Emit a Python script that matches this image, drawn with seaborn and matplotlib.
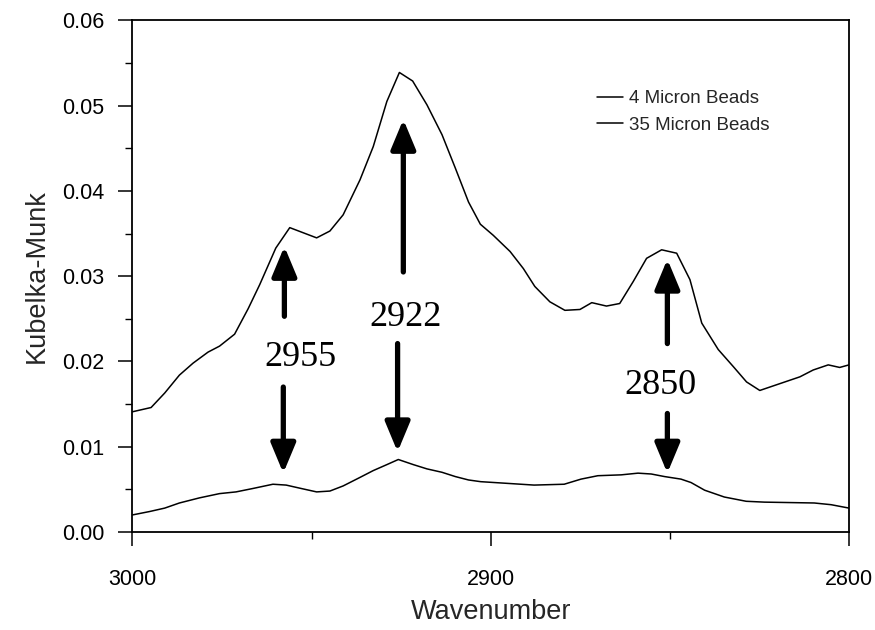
import numpy as np
import pandas as pd
import matplotlib
matplotlib.use("Agg")
import matplotlib.pyplot as plt
from matplotlib.ticker import MultipleLocator
import seaborn as sns

# ---------------- data ----------------
wn_4 = [3000, 2994.8, 2991.0, 2986.9, 2983.1, 2978.9, 2975.7, 2971.5, 2967.7, 2964.5,
        2960.0, 2956.1, 2948.6, 2944.9, 2941.2, 2936.5, 2932.8, 2929.0, 2925.5, 2921.8,
        2917.8, 2913.6, 2909.9, 2906.2, 2902.9, 2899.3, 2894.6, 2890.9, 2887.7, 2883.5,
        2879.3, 2875.1, 2871.8, 2867.7, 2864.0, 2860.2, 2856.5, 2852.3, 2848.1, 2844.4,
        2841.1, 2836.5, 2832.3, 2828.6, 2824.9, 2819.3, 2813.7, 2810.0, 2805.8, 2802.6,
        2800.0]
km_4 = [0.0141, 0.0146, 0.0163, 0.0184, 0.0198, 0.0211, 0.0218, 0.0232, 0.0262, 0.0290,
        0.0333, 0.0357, 0.0345, 0.0353, 0.0372, 0.0413, 0.0452, 0.0505, 0.0539, 0.0529,
        0.0501, 0.0466, 0.0427, 0.0387, 0.0361, 0.0348, 0.0329, 0.0309, 0.0288, 0.0270,
        0.0260, 0.0261, 0.0269, 0.0265, 0.0268, 0.0294, 0.0321, 0.0331, 0.0327, 0.0296,
        0.0245, 0.0214, 0.0194, 0.0176, 0.0166, 0.0174, 0.0182, 0.0190, 0.0196, 0.0193,
        0.0196]

wn_35 = [3000, 2995.2, 2991.0, 2986.9, 2981.3, 2975.7, 2971.1, 2966.4, 2960.8, 2957.1,
         2952.9, 2948.6, 2944.9, 2941.2, 2936.5, 2932.8, 2929.0, 2925.8, 2921.6, 2917.8,
         2913.6, 2909.9, 2906.2, 2902.8, 2895.3, 2887.9, 2879.5, 2874.8, 2870.1, 2863.6,
         2858.9, 2855.2, 2851.5, 2846.9, 2844.1, 2840.3, 2834.8, 2828.7, 2823.6, 2809.7,
         2805.0, 2800.0]
km_35 = [0.0020, 0.0024, 0.0028, 0.0034, 0.0040, 0.0045, 0.0047, 0.0051, 0.0056, 0.0055,
         0.0051, 0.0047, 0.0048, 0.0054, 0.0064, 0.0072, 0.0079, 0.0085, 0.0079, 0.0074,
         0.0070, 0.0065, 0.0061, 0.0059, 0.0057, 0.0055, 0.0056, 0.0062, 0.0066, 0.0067,
         0.0069, 0.0068, 0.0065, 0.0062, 0.0058, 0.0049, 0.0041, 0.0036, 0.0035, 0.0034,
         0.0032, 0.0028]

series_names = ["4 Micron Beads", "35 Micron Beads"]

peak_labels = ["2955", "2922", "2850"]
label_x = [2953.0, 2923.7, 2852.7]
label_y = [0.0205, 0.0251, 0.0172]
up_arrow_x = [2957.6, 2924.4, 2850.7]
up_tail = [0.0253, 0.0305, 0.0221]
up_tip = [0.0335, 0.0484, 0.0320]
down_arrow_x = [2957.9, 2926.0, 2850.7]
down_tail = [0.0170, 0.0221, 0.0139]
down_tip = [0.0069, 0.0094, 0.0069]

x_ticks = [3000, 2900, 2800]
y_ticks = [0.00, 0.01, 0.02, 0.03, 0.04, 0.05, 0.06]

# ---------------- frame ----------------
df = pd.concat([
    pd.DataFrame({"Wavenumber": wn_4, "KM": km_4, "series": series_names[0]}),
    pd.DataFrame({"Wavenumber": wn_35, "KM": km_35, "series": series_names[1]}),
], ignore_index=True)

sns.set_style("ticks")
plt.rcParams["font.family"] = ["Liberation Sans", "DejaVu Sans"]

fig = plt.figure(figsize=(8.75, 6.3), dpi=100)
ax = fig.add_axes([0.1514, 0.1556, 0.8189, 0.8119])

sns.lineplot(data=df, x="Wavenumber", y="KM", hue="series", hue_order=series_names,
             palette=["black", "black"], estimator=None, errorbar=None,
             linewidth=1.1, ax=ax)

ax.set_xlim(3000, 2800)
ax.set_ylim(0, 0.06)
ax.set_xticks(x_ticks)
ax.set_xticklabels([str(v) for v in x_ticks])
ax.set_yticks(y_ticks)
ax.set_yticklabels([f"{v:.2f}" for v in y_ticks])
ax.xaxis.set_minor_locator(MultipleLocator(50))
ax.yaxis.set_minor_locator(MultipleLocator(0.005))

for s in ax.spines.values():
    s.set_visible(True)
    s.set_linewidth(1.3)
    s.set_color("black")

ax.tick_params(which="major", direction="out", length=10, width=1.1, labelsize=15.5,
               colors="black")
ax.tick_params(which="minor", direction="out", length=5, width=1.0, colors="black")
ax.tick_params(axis="y", which="major", pad=10)
ax.tick_params(axis="x", which="major", pad=17)

ax.set_xlabel("Wavenumber", fontsize=19.5, labelpad=6)
ax.set_ylabel("Kubelka-Munk", fontsize=19.5, labelpad=9)

leg = ax.legend(loc="upper left", bbox_to_anchor=(0.648, 0.864), frameon=False,
                fontsize=13.5, handlelength=1.4, handletextpad=0.3,
                labelspacing=0.5, borderpad=0, borderaxespad=0)
for h in leg.get_lines():
    h.set_linewidth(1.1)

arrow_style = "-|>,head_length=1.8,head_width=0.75"
for i in range(len(peak_labels)):
    ax.annotate("", xy=(up_arrow_x[i], up_tip[i]), xytext=(up_arrow_x[i], up_tail[i]),
                arrowprops=dict(arrowstyle=arrow_style, lw=3.8, color="black",
                                shrinkA=0, shrinkB=0, mutation_scale=10))
    ax.annotate("", xy=(down_arrow_x[i], down_tip[i]), xytext=(down_arrow_x[i], down_tail[i]),
                arrowprops=dict(arrowstyle=arrow_style, lw=3.8, color="black",
                                shrinkA=0, shrinkB=0, mutation_scale=10))
    ax.text(label_x[i], label_y[i], peak_labels[i], ha="center", va="center",
            fontsize=26, family=["Liberation Serif", "DejaVu Serif"], color="black")

fig.savefig("out.png", dpi=100)
